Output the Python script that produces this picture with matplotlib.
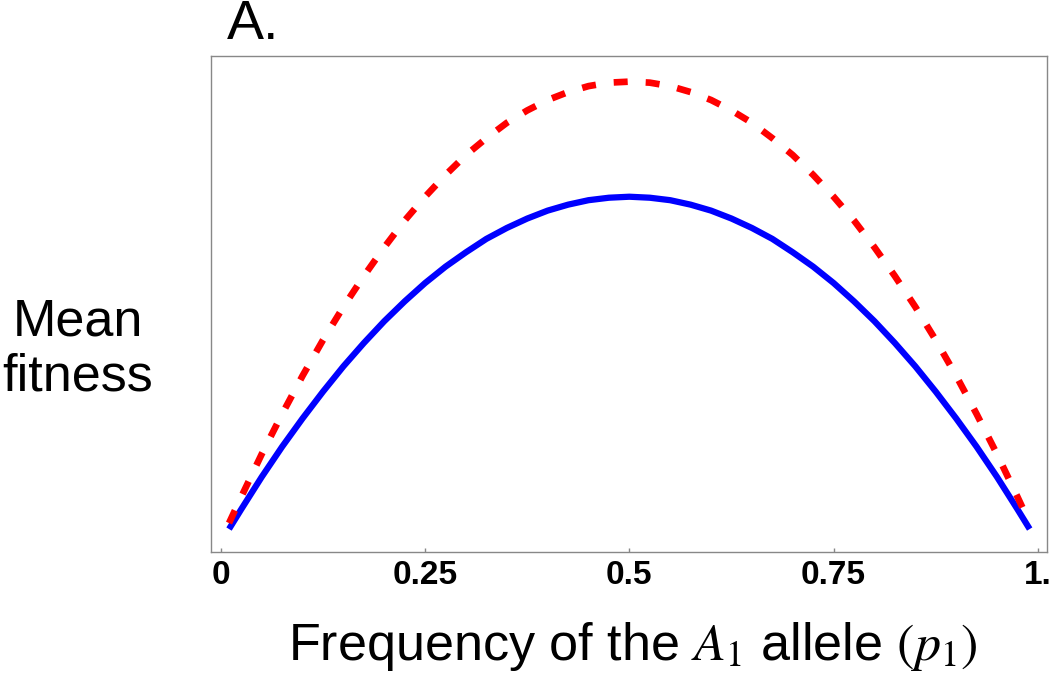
import matplotlib.pyplot as plt

plt.rcParams['font.family'] = ['Liberation Sans', 'DejaVu Sans']
plt.rcParams['mathtext.fontset'] = 'stix'

# allele frequency p1 (left half; the curves are mirror images about 0.5)
p1_half = [0.01, 0.025, 0.05, 0.075, 0.10, 0.125, 0.15, 0.175, 0.20, 0.225, 0.25,
           0.275, 0.30, 0.325, 0.35, 0.375, 0.40, 0.425, 0.45, 0.475, 0.50]
# mean fitness (relative units)
solid_half = [0.046, 0.086, 0.151, 0.212, 0.269, 0.323, 0.374, 0.421, 0.465, 0.505, 0.542,
              0.575, 0.604, 0.631, 0.653, 0.672, 0.688, 0.700, 0.709, 0.714, 0.716]
dashed_half = [0.058, 0.111, 0.197, 0.278, 0.355, 0.427, 0.494, 0.556, 0.614, 0.668, 0.716,
               0.760, 0.800, 0.834, 0.865, 0.890, 0.911, 0.927, 0.939, 0.946, 0.948]

p1 = p1_half + [round(1 - p, 3) for p in reversed(p1_half[:-1])]
fitness_solid = solid_half + list(reversed(solid_half[:-1]))
fitness_dashed = dashed_half + list(reversed(dashed_half[:-1]))

xticks = [0, 0.25, 0.5, 0.75, 1]
xtick_labels = ['0', '0.25', '0.5', '0.75', '1.']

fig = plt.figure(figsize=(10.5, 6.73), dpi=100)
ax = fig.add_axes([0.201, 0.18, 0.796, 0.737])

ax.plot(p1, fitness_solid, color='#0000ff', lw=4.5, solid_capstyle='butt',
        solid_joinstyle='round')
ax.plot(p1, fitness_dashed, color='#ff0000', lw=4.8, linestyle=(0, (2.1, 2.7)),
        dash_capstyle='butt')

ax.set_xlim(-0.012, 1.011)
ax.set_ylim(0, 1)
ax.set_yticks([])
ax.set_xticks(xticks)
ax.set_xticklabels(xtick_labels, fontsize=24, fontweight='bold')
ax.tick_params(axis='x', direction='in', length=3, width=1, color='#888888', pad=6)

for s in ax.spines.values():
    s.set_color('#888888')
    s.set_linewidth(1)

fig.text(0.603, 0.0193, r'Frequency of the $A_1$ allele $(p_1)$', fontsize=37.5,
         ha='center', va='baseline')
fig.text(0.074, 0.502, 'Mean', fontsize=37.5, ha='center', va='baseline')
fig.text(0.074, 0.420, 'fitness', fontsize=37.5, ha='center', va='baseline')
fig.text(0.216, 0.942, 'A.', fontsize=40, ha='left', va='baseline')

fig.savefig('out.png', dpi=100)
